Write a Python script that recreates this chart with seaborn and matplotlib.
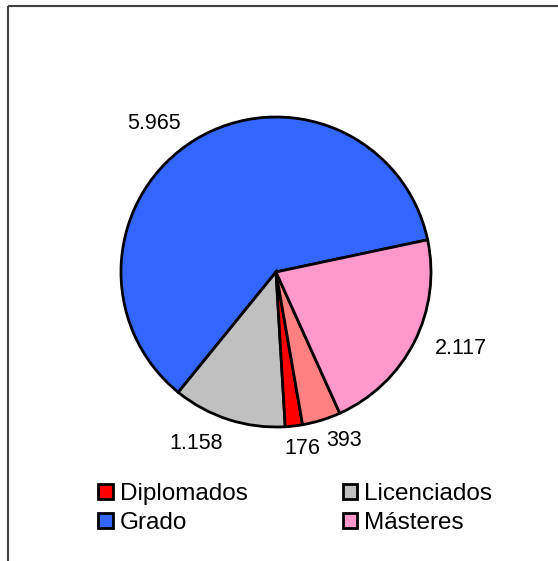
import matplotlib
matplotlib.use("Agg")
import matplotlib.pyplot as plt
import seaborn as sns
import numpy as np

# slices in drawing order (counter-clockwise from the start angle)
categories = ["Grado", "Licenciados", "Diplomados", "Doctorado", "Másteres"]
values = [5965, 1158, 176, 393, 2117]
value_labels = ["5.965", "1.158", "176", "393", "2.117"]
colors = ["#3366FF", "#C0C0C0", "#FF0000", "#FF8080", "#FF99CC"]
legend_order = ["Diplomados", "Grado", "Licenciados", "Másteres"]

sns.set_theme(style="white")
plt.rcParams["font.family"] = ["Liberation Sans", "DejaVu Sans"]
plt.rcParams["text.color"] = "black"

W, H = 558, 561
fig = plt.figure(figsize=(W / 100, H / 100), dpi=100)
ax = fig.add_axes([0, 0, 1, 1])

cx, cy, R = 276, H - 272, 155
explode = [0.018, 0, 0, 0, 0]
wedges, _ = ax.pie(values, colors=colors, startangle=12, counterclock=True,
                   center=(cx, cy), radius=R, explode=explode,
                   wedgeprops=dict(edgecolor="black", linewidth=2))
ax.set_xlim(0, W)
ax.set_ylim(0, H)
ax.set_aspect("equal")
ax.axis("off")

# chart area border: top and left edges, the rest runs off the picture
ax.plot([7.5, W], [H - 6, H - 6], color="#404040", linewidth=1.5,
        solid_capstyle="butt", clip_on=False)
ax.plot([7.5, 7.5], [0, H - 6], color="#404040", linewidth=1.5,
        solid_capstyle="butt", clip_on=False)

# label placement: radius factor and angle shift per slice
label_r = [1.24, 1.22, 1.15, 1.175, 1.29]
label_shift = [8, -7.3, 2, 4.8, 4.2]
for w, txt, rf, sh in zip(wedges, value_labels, label_r, label_shift):
    ang = np.deg2rad((w.theta1 + w.theta2) / 2 + sh)
    ax.text(cx + rf * R * np.cos(ang), cy + rf * R * np.sin(ang), txt,
            ha="center", va="center", fontsize=15.5, color="black")

handles = [wedges[categories.index(c)] for c in legend_order]
leg = fig.legend(handles, legend_order, ncol=2, loc="upper left",
                 bbox_to_anchor=(98 / W, 1 - 483 / H), frameon=False,
                 fontsize=17.5, handlelength=0.6, handleheight=0.6,
                 handletextpad=0.3, columnspacing=3.9, labelspacing=0.3,
                 borderpad=0, borderaxespad=0)

fig.savefig("out.png", dpi=100)
